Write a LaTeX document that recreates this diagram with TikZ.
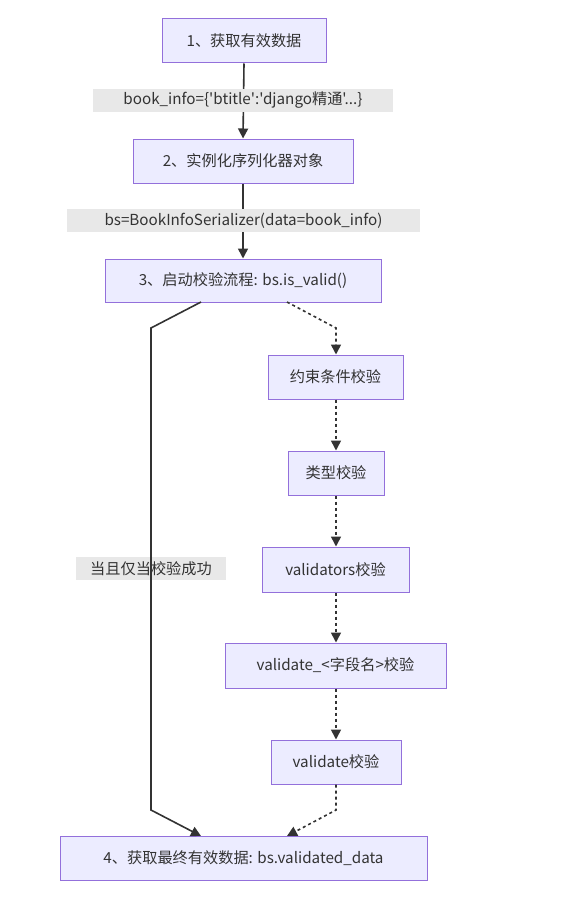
\documentclass[tikz,border=0pt]{standalone}
\usepackage{fontspec}
\newfontfamily\cjkfont{Noto Sans CJK SC}
\usetikzlibrary{arrows.meta}
\definecolor{boxfill}{HTML}{ECECFF}
\definecolor{boxline}{HTML}{9370DB}
\definecolor{lblfill}{HTML}{E8E8E8}
\definecolor{edge}{HTML}{333333}
\tikzset{
  box/.style={draw=boxline, fill=boxfill, line width=1pt, inner sep=0pt, align=center, font=\cjkfont\fontsize{15.2}{17}\selectfont, text=edge},
  lbl/.style={fill=lblfill, inner sep=0pt, font=\cjkfont\fontsize{15.2}{17}\selectfont, text=edge},
  conn/.style={draw=edge, line width=1.6pt, -{Triangle[length=10pt,width=10pt]}},
  dconn/.style={conn, dash pattern=on 3pt off 3pt},
}
\begin{document}
\begin{tikzpicture}[x=1pt,y=-1pt]
\useasboundingbox (0,0) rectangle (561,899);
% nodes
\node[box, minimum width=164pt, minimum height=44pt] (n1) at (244,41) {1、获取有效数据};
\node[box, minimum width=220pt, minimum height=44pt] (n2) at (243,161) {2、实例化序列化器对象};
\node[box, minimum width=276pt, minimum height=43pt] (n3) at (243,280.5) {3、启动校验流程: bs.is\_valid()};
\node[box, minimum width=135pt, minimum height=44pt] (c1) at (335.5,377) {约束条件校验};
\node[box, minimum width=96pt, minimum height=44pt] (c2) at (336,473) {类型校验};
\node[box, minimum width=147pt, minimum height=45pt] (c3) at (335.5,569.5) {validators校验};
\node[box, minimum width=221pt, minimum height=45pt] (c4) at (335.5,665.5) {validate\_<字段名>校验};
\node[box, minimum width=130pt, minimum height=44pt] (c5) at (336,762) {validate校验};
\node[box, minimum width=367pt, minimum height=44pt] (n4) at (243.5,858) {4、获取最终有效数据: bs.validated\_data};
% edges top
\draw[conn] (n1.south) -- (n2.north);
\node[lbl, minimum width=300pt, minimum height=23pt] (l1) at (243,100.5) {book\_info=\{'btitle':'django精通'...\}};
\draw[conn] (n2.south) -- (n3.north);
\node[lbl, minimum width=353pt, minimum height=23pt] (l2) at (243.5,220.5) {bs=BookInfoSerializer(data=book\_info)};
% left solid path
\node[lbl, minimum width=150pt, minimum height=23pt] (l3) at (151,568.5) {当且仅当校验成功};
\coordinate (a1) at (201,302);
\coordinate (a2) at (151,328);
\coordinate (a3) at (151,810);
\coordinate (a4) at (201,836);
\draw[conn] (a1) -- (a2) -- (a3) -- (a4);
% dotted path
\coordinate (b1) at (287,302);
\coordinate (b2) at (336,328);
\draw[dconn] (b1) -- (b2) -- (c1.north -| b2);
\draw[dconn] (c1.south -| b2) -- (c2.north -| b2);
\draw[dconn] (c2.south -| b2) -- (c3.north -| b2);
\draw[dconn] (c3.south -| b2) -- (c4.north -| b2);
\draw[dconn] (c4.south -| b2) -- (c5.north -| b2);
\coordinate (b3) at (336,810);
\coordinate (b4) at (287,836);
\draw[dconn] (c5.south -| b2) -- (b3) -- (b4);
\end{tikzpicture}
\end{document}
